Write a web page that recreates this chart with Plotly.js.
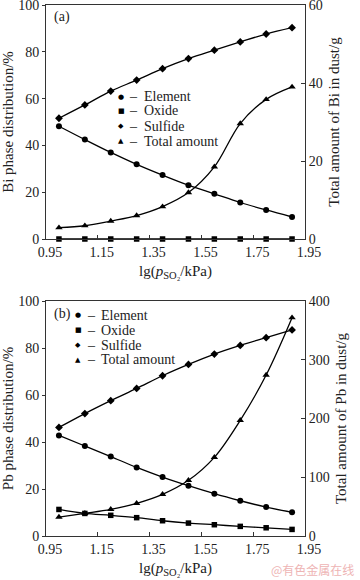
<!DOCTYPE html>
<html>
<head>
<meta charset="utf-8">
<script src="https://cdn.plot.ly/plotly-3.0.1.min.js"></script>
<style>html,body{margin:0;padding:0;background:#fff;}#chart{width:360px;height:580px;}</style>
</head>
<body>
<div id="chart"></div>
<script>
// ---- data ----
const lgP = [1.0, 1.1, 1.2, 1.3, 1.4, 1.5, 1.6, 1.7, 1.8, 1.9];
const biElement = [48.2, 42.5, 37.0, 31.9, 27.3, 23.0, 19.3, 15.6, 12.4, 9.4];
const biOxide   = [0, 0, 0, 0, 0, 0, 0, 0, 0, 0];
const biSulfide = [51.6, 57.3, 63.2, 67.9, 72.8, 77.1, 80.7, 84.2, 87.6, 90.3];
const biTotal   = [2.9, 3.4, 4.6, 6.0, 8.3, 11.9, 18.5, 29.6, 35.8, 39.0];
const pbElement = [42.8, 38.3, 33.8, 29.2, 25.1, 21.4, 18.0, 15.0, 12.3, 10.1];
const pbOxide   = [11.3, 9.6, 8.8, 7.8, 6.5, 5.5, 4.8, 4.1, 3.5, 2.8];
const pbSulfide = [46.2, 52.1, 57.6, 62.8, 68.2, 73.0, 77.4, 81.1, 84.4, 87.7];
const pbTotal   = [32.3, 38.6, 45.4, 55.6, 70.9, 94.8, 133.9, 196.9, 274.0, 371.6];
const seriesNames = ['Element', 'Oxide', 'Sulfide', 'Total amount'];
const seriesGlyphs = ['●', '■', '◆', '▲'];
const xTicks = [0.95, 1.15, 1.35, 1.55, 1.75, 1.95];
const xTickText = ['0.95', '1.15', '1.35', '1.55', '1.75', '1.95'];
const leftTicks = [0, 20, 40, 60, 80, 100];
const biRightTicks = [0, 20, 40, 60];
const pbRightTicks = [0, 100, 200, 300, 400];

// ---- layout helpers ----
const FONT = 'Liberation Serif, Times New Roman, serif';
const L = 46, R = 55, T = 5, B = 44, W = 360, H = 580;
const PW = W - L - R, PH = H - T - B;
const pxX = p => (p - L) / PW;
const pxY = p => (H - B - p) / PH;

const symbols = ['circle', 'square', 'diamond', 'triangle-up'];
const sizes = [6, 5.5, 6, 6.5];
function tr(y, xa, ya, i) {
  return {
    x: lgP, y: y, xaxis: xa, yaxis: ya, name: seriesNames[i],
    type: 'scatter', mode: 'lines+markers', cliponaxis: false, showlegend: false,
    line: {color: '#000', width: 1.3, shape: 'spline', smoothing: 1},
    marker: {color: '#000', symbol: symbols[i], size: sizes[i]}
  };
}
const data = [
  tr(biElement, 'x', 'y', 0), tr(biOxide, 'x', 'y', 1), tr(biSulfide, 'x', 'y', 2), tr(biTotal, 'x', 'y2', 3),
  tr(pbElement, 'x2', 'y3', 0), tr(pbOxide, 'x2', 'y3', 1), tr(pbSulfide, 'x2', 'y3', 2), tr(pbTotal, 'x2', 'y4', 3)
];

const axisCommon = {
  showgrid: false, zeroline: false, showline: true, linecolor: '#333', linewidth: 1,
  tickcolor: '#333', tickfont: {family: FONT, size: 14, color: '#222'}, automargin: false,
  ticklabeloverflow: 'allow'
};
function xAxis(anchor) {
  return Object.assign({}, axisCommon, {
    anchor: anchor, domain: [0, 1], range: [0.95, 1.95], tickvals: xTicks, ticktext: xTickText,
    ticks: 'inside', ticklen: 4, mirror: true, ticklabelshift: 4,
    title: {text: 'lg(<i>p</i><sub>SO₂</sub>/kPa)', font: {family: FONT, size: 15, color: '#222'}, standoff: 6}
  });
}
function yLeft(anchor, domain, title) {
  return Object.assign({}, axisCommon, {
    anchor: anchor, domain: domain, range: [0, 100], tickvals: leftTicks,
    ticks: 'outside', ticklen: 3,
    title: {text: title, font: {family: FONT, size: 15, color: '#222'}, standoff: 4}
  });
}
function yRight(anchor, over, range, ticks, title) {
  return Object.assign({}, axisCommon, {
    anchor: anchor, overlaying: over, side: 'right', range: range, tickvals: ticks,
    ticks: 'inside', ticklen: 4,
    title: {text: title, font: {family: FONT, size: 15, color: '#222'}, standoff: 6}
  });
}

const topDom = [pxY(239), pxY(5)];
const botDom = [pxY(536), pxY(301)];

const annotations = [];
function addText(px, py, text, anchor, size, color, fam) {
  annotations.push({xref: 'paper', yref: 'paper', x: pxX(px), y: pxY(py), text: text,
    showarrow: false, xanchor: anchor, yanchor: 'middle', borderpad: 0,
    font: {family: fam || FONT, size: size, color: color || '#222'}});
}
addText(53, 17, '(a)', 'left', 14);
addText(53, 314, '(b)', 'left', 14);
const legA = [96.7, 111, 126, 141];
const legB = [315, 330, 345, 359.7];
for (let i = 0; i < 4; i++) {
  addText(121, legA[i], seriesGlyphs[i], 'center', 7, '#000', 'DejaVu Sans');
  addText(128, legA[i], '–', 'left', 14);
  addText(143, legA[i], seriesNames[i], 'left', 14);
  addText(78, legB[i], seriesGlyphs[i], 'center', 7, '#000', 'DejaVu Sans');
  addText(86, legB[i], '–', 'left', 14);
  addText(100, legB[i], seriesNames[i], 'left', 14);
}
addText(355, 569, '@有色金属在线', 'right', 12, '#eeb4b4', 'Noto Sans CJK SC');

const layout = {
  width: W, height: H, margin: {l: L, r: R, t: T, b: B},
  paper_bgcolor: '#fff', plot_bgcolor: '#fff', showlegend: false,
  font: {family: FONT, color: '#222'},
  xaxis: xAxis('y'),
  yaxis: yLeft('x', topDom, 'Bi phase distribution/%'),
  yaxis2: yRight('x', 'y', [0, 60], biRightTicks, 'Total amount of Bi in dust/g'),
  xaxis2: xAxis('y3'),
  yaxis3: yLeft('x2', botDom, 'Pb phase distribution/%'),
  yaxis4: yRight('x2', 'y3', [0, 400], pbRightTicks, 'Total amount of Pb in dust/g'),
  annotations: annotations
};
layout.yaxis2.domain = topDom;
layout.yaxis4.domain = botDom;

Plotly.newPlot('chart', data, layout, {staticPlot: true, displayModeBar: false});
</script>
</body>
</html>
